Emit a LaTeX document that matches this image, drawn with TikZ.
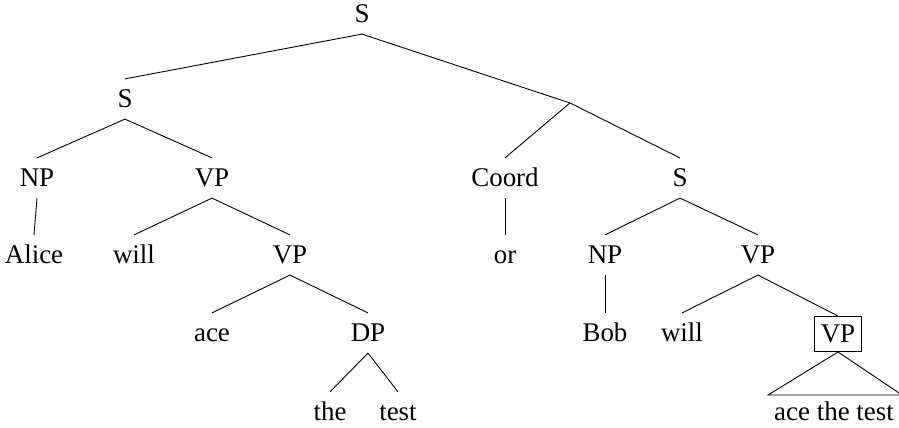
\documentclass[tikz,border=0pt]{standalone}
\usepackage{fontspec}
\setmainfont{Liberation Serif}
\usepackage{tikz}

\begin{document}
\begin{tikzpicture}[x=0.445pt,y=-0.445pt,font=\fontsize{12}{14}\selectfont,
		n/.style={inner sep=0pt,text height=9.5pt,text depth=2pt,minimum height=17.5pt},
		bx/.style={n,draw,minimum height=15.6pt,minimum width=21pt}]
				\useasboundingbox (0,0) rectangle (899,428);
				\node[n] (s0) at (362,14) {S};
				\node[n] (s1) at (125,99) {S};
				\coordinate (c0) at (570,103);
				\node[n] (np1) at (37,178) {NP};
				\node[n] (vp1) at (212,178) {VP};
				\node[n] (alice) at (34,255) {Alice};
				\node[n] (will1) at (134,255) {will};
				\node[n] (vp2) at (290,255) {VP};
				\node[n] (ace) at (212,333) {ace};
				\node[n] (dp) at (368,333) {DP};
				\node[n] (the) at (330,412) {the};
				\node[n] (test) at (398,412) {test};
				\node[n] (coord) at (505,178) {Coord};
				\node[n] (or) at (505,255) {or};
				\node[n] (s2) at (680,178) {S};
				\node[n] (np2) at (605,255) {NP};
				\node[n] (vp3) at (758,255) {VP};
				\node[n] (bob) at (605,333) {Bob};
				\node[n] (will2) at (682,333) {will};
				\node[bx] (vp4) at (838,334) {VP};
				\node[n] (act) at (834,412) {ace the test};
				\coordinate (tl) at (768,395);
				\coordinate (tr) at (902,395);
				\draw (s0.south) -- (s1.north) (s0.south) -- (c0);
				\draw (s1.south) -- (np1.north) (s1.south) -- (vp1.north);
				\draw (np1.south) -- (alice.north);
				\draw (vp1.south) -- (will1.north) (vp1.south) -- (vp2.north);
				\draw (vp2.south) -- (ace.north) (vp2.south) -- (dp.north);
				\draw (dp.south) -- (the.north) (dp.south) -- (test.north);
				\draw (c0) -- (coord.north) (c0) -- (s2.north);
				\draw (coord.south) -- (or.north);
				\draw (s2.south) -- (np2.north) (s2.south) -- (vp3.north);
				\draw (np2.south) -- (bob.north);
				\draw (vp3.south) -- (will2.north) (vp3.south) -- (vp4.north);
				\draw (vp4.south) -- (tl) -- (tr) -- cycle;
			\end{tikzpicture}
\end{document}
